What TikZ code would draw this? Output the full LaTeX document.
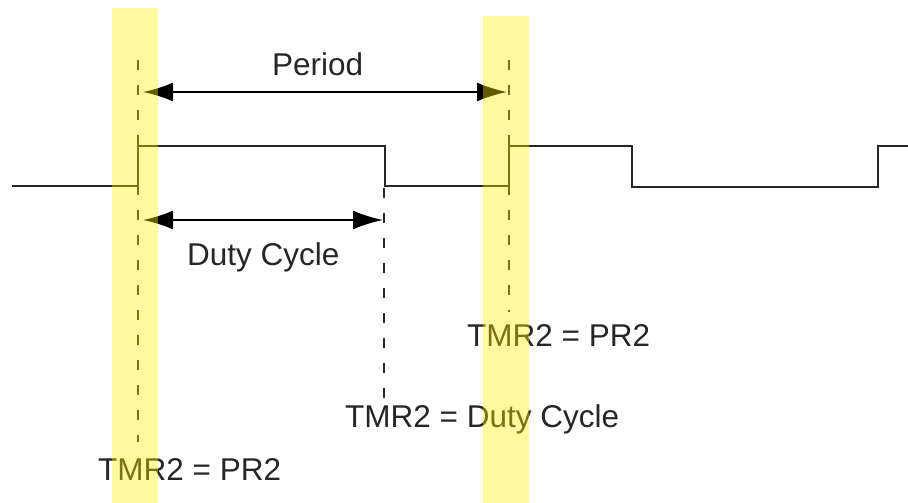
\documentclass[tikz,border=0pt]{standalone}
\usepackage{fontspec}
\setmainfont{Liberation Sans}
\usetikzlibrary{arrows.meta}
\begin{document}
\begin{tikzpicture}[x=1pt,y=-1pt,
  signal/.style={draw=black!85,line width=2pt,line join=miter},
  guide/.style={draw=black!85,line width=1.6pt,dash pattern=on 10pt off 15pt},
  dim/.style={draw=black,line width=2pt,{Latex[length=30pt,width=19pt]}-{Latex[length=30pt,width=19pt]}},
  label/.style={inner sep=0pt,anchor=base west,text=black!85,font=\fontsize{31.5pt}{36pt}\selectfont},
  band/.style={fill=yellow,fill opacity=0.38,draw=none}]
\useasboundingbox (0,0) rectangle (908,503);
% signal corner points
\coordinate (s0) at (12,186);
\coordinate (s1) at (138,186);
\coordinate (s2) at (138,146);
\coordinate (s3) at (385,146);
\coordinate (s4) at (385,186);
\coordinate (s5) at (509,186);
\coordinate (s6) at (509,146);
\coordinate (s7) at (632,146);
\coordinate (s8) at (632,187);
\coordinate (s9) at (878,187);
\coordinate (s10) at (878,146);
\coordinate (s11) at (908,146);
\draw[signal] (s0) -- (s1) -- (s2) -- (s3) -- (s4) -- (s5) -- (s6) -- (s7) -- (s8) -- (s9) -- (s10) -- (s11);
% guide lines
\coordinate (g1t) at (138,60);
\coordinate (g1b) at (138,442);
\coordinate (g2t) at (509,60);
\coordinate (g2b) at (509,312);
\coordinate (g3t) at (384,188);
\coordinate (g3b) at (384,398);
\draw[guide] (g1t) -- (g1b);
\draw[guide] (g2t) -- (g2b);
\draw[guide] (g3t) -- (g3b);
% dimension arrows
\coordinate (pa) at (143,92);
\coordinate (pb) at (507,92);
\coordinate (da) at (143,220);
\coordinate (db) at (383,220);
\draw[dim] (pa) -- (pb);
\draw[dim] (da) -- (db);
% labels
\node[label] (period) at (272,76) {Period};
\node[label] (duty) at (187,265) {Duty Cycle};
\node[label] (tdc) at (345,427) {TMR2 = Duty Cycle};
\node[label] (tpr1) at (98,480) {TMR2 = PR2};
\node[label] (tpr2) at (467,346) {TMR2 = PR2};
% highlight bands
\path[band] (112,8) rectangle (158,503);
\path[band] (483,16) rectangle (529,503);
\end{tikzpicture}
\end{document}
